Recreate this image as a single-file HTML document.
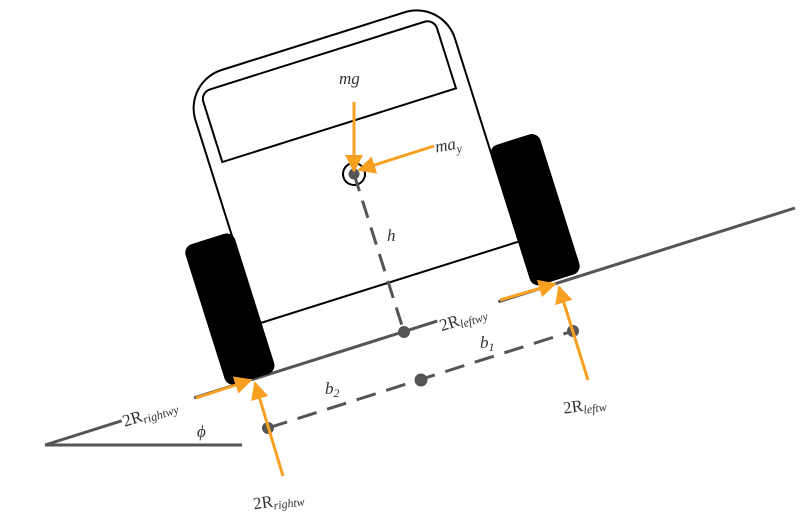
<!DOCTYPE html>
<html><head><style>html,body{margin:0;padding:0;background:#fff}svg{display:block}
text{font-family:"Liberation Serif",serif;fill:#333;font-style:italic}</style></head>
<body>
<svg width="810" height="524" viewBox="0 0 810 524" xmlns="http://www.w3.org/2000/svg">
<defs>
<marker id="ah" viewBox="0 0 10 10" refX="9" refY="5" markerWidth="6" markerHeight="6" orient="auto"><path d="M0,0 L10,5 L0,10 Z" fill="#f7a021"/></marker>
</defs>
<!-- ground -->
<line x1="45" y1="445" x2="795" y2="208" stroke="#555" stroke-width="3"/>
<line x1="45" y1="445" x2="242" y2="445" stroke="#555" stroke-width="3"/>
<g transform="translate(354,174) rotate(-17.5)">
  <path d="M-135,114 L-135,-99 A40,40 0 0 1 -95,-139 L97,-139 A40,40 0 0 1 137,-99 L137,114 Z" fill="#fff" stroke="#000" stroke-width="2"/>
  <path d="M-122,-51 L-122,-114 A10,10 0 0 1 -112,-124 L113,-124 A10,10 0 0 1 123,-114 L123,-51 Z" fill="none" stroke="#000" stroke-width="2"/>
  <rect x="-185" y="18" width="52" height="147" rx="9" fill="#000"/>
  <rect x="136" y="15" width="52" height="147" rx="9" fill="#000"/>
  <circle cx="0" cy="0" r="11" fill="none" stroke="#000" stroke-width="2"/>
</g>
<!-- h dashed -->
<line x1="354" y1="174" x2="404" y2="332" stroke="#555" stroke-width="3" stroke-dasharray="18,10"/>
<!-- b dashed -->
<line x1="268" y1="428" x2="573" y2="331" stroke="#555" stroke-width="3" stroke-dasharray="20,11"/>
<circle cx="354" cy="174" r="5.5" fill="#555"/>
<circle cx="404" cy="332" r="6" fill="#555"/>
<circle cx="268" cy="428" r="6" fill="#555"/>
<circle cx="573" cy="331" r="6" fill="#555"/>
<circle cx="421" cy="380" r="6.5" fill="#555"/>
<!-- label backgrounds on ground line -->
<rect x="437" y="306" width="64" height="17" fill="#fff" transform="rotate(-17.5 470 315)"/>
<rect x="120" y="401" width="76" height="17" fill="#fff" transform="rotate(-17.5 155 410)"/>
<!-- orange arrows -->
<g stroke="#f7a021" stroke-width="3" fill="none" marker-end="url(#ah)">
<line x1="354" y1="102" x2="354" y2="171"/>
<line x1="434" y1="146" x2="359" y2="170"/>
<line x1="196" y1="398" x2="251" y2="380"/>
<line x1="500" y1="300" x2="555" y2="284"/>
<line x1="283" y1="476" x2="255" y2="383"/>
<line x1="588" y1="380" x2="559" y2="287"/>
</g>
<!-- labels -->
<text x="339" y="84" font-size="17">mg</text>
<text x="435" y="150" font-size="17" transform="rotate(-10 450 145)">ma<tspan font-size="12" dy="4">y</tspan></text>
<text x="387" y="241" font-size="17">h</text>
<text x="438" y="322" font-size="17" transform="rotate(-17.5 470 315)"><tspan font-style="normal">2R</tspan><tspan font-size="12" dy="3">leftwy</tspan></text>
<text x="480" y="348" font-size="17" font-style="normal">b<tspan font-size="12" dy="3">1</tspan></text>
<text x="325" y="394" font-size="17" font-style="normal">b<tspan font-size="12" dy="3">2</tspan></text>
<text x="121" y="417" font-size="17" transform="rotate(-17.5 155 410)"><tspan font-style="normal">2R</tspan><tspan font-size="12" dy="3">rightwy</tspan></text>
<text x="197" y="437" font-size="17">ϕ</text>
<text x="563" y="410" font-size="17" transform="rotate(-8 590 405)"><tspan font-style="normal">2R</tspan><tspan font-size="12" dy="3">leftw</tspan></text>
<text x="253" y="505" font-size="17" transform="rotate(-8 285 500)"><tspan font-style="normal">2R</tspan><tspan font-size="12" dy="3">rightw</tspan></text>
</svg>
</body></html>
